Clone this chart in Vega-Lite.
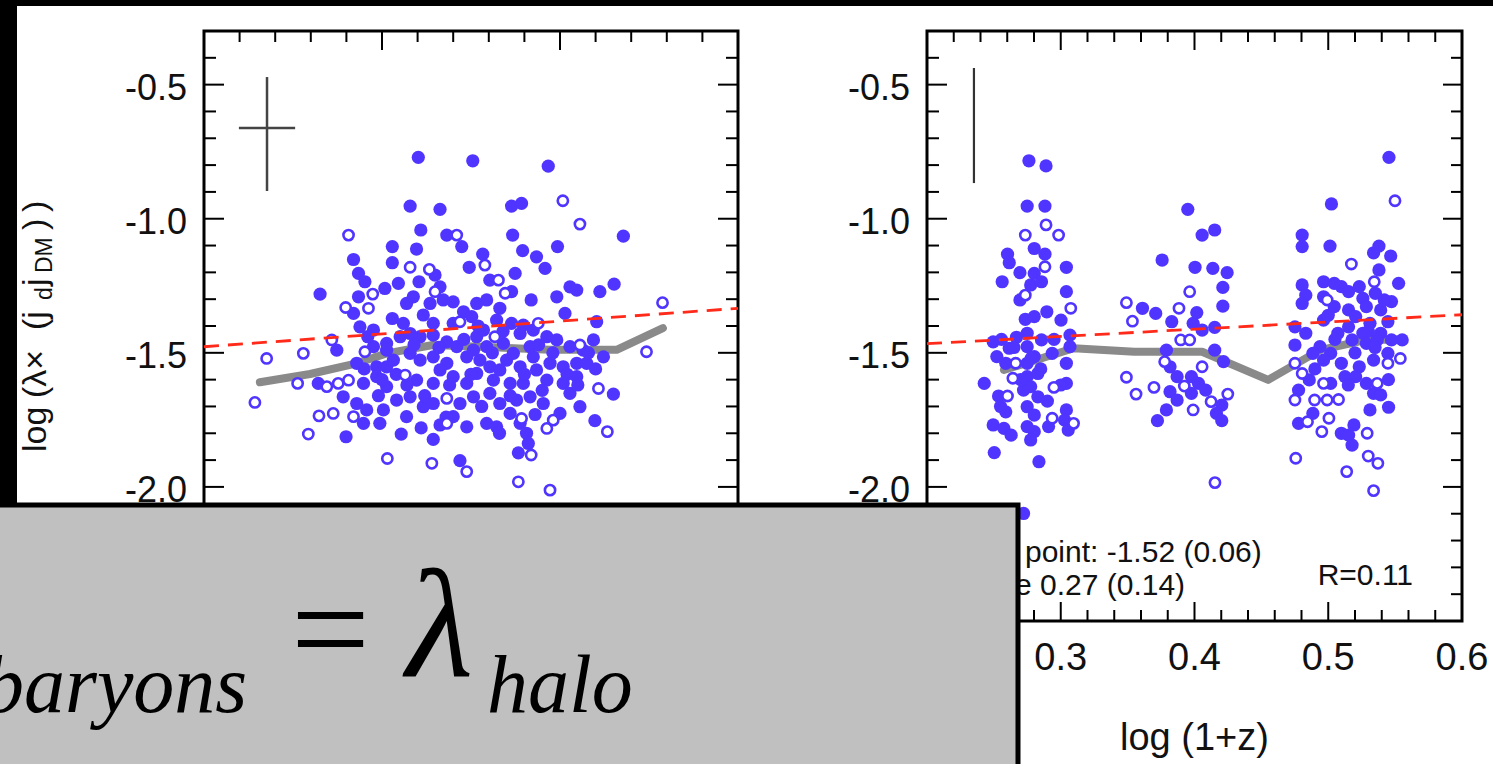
{
"$schema":"https://vega.github.io/schema/vega-lite/v6.json",
"width":1476,"height":758,
"autosize":{"type":"none"},
"padding":{"left":17,"top":6,"right":0,"bottom":0},
"background":"#000000",
"config":{"view":{"fill":"white","stroke":null},"axis":{"disable":true},"legend":{"disable":true}},
"datasets":{
"one":[{}],
"yt":[{"v":-2.4,"m":0},{"v":-2.3,"m":0},{"v":-2.2,"m":0},{"v":-2.1,"m":0},{"v":-2.0,"m":1},{"v":-1.9,"m":0},{"v":-1.8,"m":0},{"v":-1.7,"m":0},{"v":-1.6,"m":0},{"v":-1.5,"m":1},{"v":-1.4,"m":0},{"v":-1.3,"m":0},{"v":-1.2,"m":0},{"v":-1.1,"m":0},{"v":-1.0,"m":1},{"v":-0.9,"m":0},{"v":-0.8,"m":0},{"v":-0.7,"m":0},{"v":-0.6,"m":0},{"v":-0.5,"m":1},{"v":-0.4,"m":0}],
"lxt":[{"v":9.6,"m":0},{"v":9.7,"m":0},{"v":9.8,"m":0},{"v":9.9,"m":0},{"v":10.0,"m":1},{"v":10.1,"m":0},{"v":10.2,"m":0},{"v":10.3,"m":0},{"v":10.4,"m":0},{"v":10.5,"m":1},{"v":10.6,"m":0},{"v":10.7,"m":0},{"v":10.8,"m":0},{"v":10.9,"m":0}],
"rxt":[{"v":0.22,"m":0},{"v":0.24,"m":0},{"v":0.26,"m":0},{"v":0.28,"m":0},{"v":0.30,"m":1},{"v":0.32,"m":0},{"v":0.34,"m":0},{"v":0.36,"m":0},{"v":0.38,"m":0},{"v":0.40,"m":1},{"v":0.42,"m":0},{"v":0.44,"m":0},{"v":0.46,"m":0},{"v":0.48,"m":0},{"v":0.50,"m":1},{"v":0.52,"m":0},{"v":0.54,"m":0},{"v":0.56,"m":0},{"v":0.58,"m":0}],
"ylab":[{"v":-2.5,"t":"-2.5"},{"v":-2.0,"t":"-2.0"},{"v":-1.5,"t":"-1.5"},{"v":-1.0,"t":"-1.0"},{"v":-0.5,"t":"-0.5"}],
"rxlab":[{"v":0.2,"t":"0.2"},{"v":0.3,"t":"0.3"},{"v":0.4,"t":"0.4"},{"v":0.5,"t":"0.5"},{"v":0.6,"t":"0.6"}],
"lg":[{"x":9.657,"y":-1.61},{"x":9.798,"y":-1.579},{"x":9.929,"y":-1.539},{"x":10.013,"y":-1.502},{"x":10.143,"y":-1.471},{"x":10.275,"y":-1.477},{"x":10.472,"y":-1.489},{"x":10.659,"y":-1.489},{"x":10.789,"y":-1.408}],
"lr":[{"x":9.5,"y":-1.4773},{"x":11.0,"y":-1.3341}],
"rg":[{"x":0.2575,"y":-1.564},{"x":0.3096,"y":-1.483},{"x":0.355,"y":-1.496},{"x":0.4057,"y":-1.496},{"x":0.4551,"y":-1.601},{"x":0.4938,"y":-1.49},{"x":0.5285,"y":-1.452},{"x":0.5566,"y":-1.45}],
"rr":[{"x":0.2,"y":-1.466},{"x":0.6,"y":-1.358}],
"lp":[{"x":10.102,"y":-0.771,"f":1},{"x":10.255,"y":-0.784,"f":1},{"x":10.467,"y":-0.804,"f":1},{"x":10.079,"y":-0.953,"f":1},{"x":10.163,"y":-0.965,"f":1},{"x":10.364,"y":-0.953,"f":1},{"x":10.392,"y":-0.943,"f":1},{"x":10.508,"y":-0.933,"f":0},{"x":10.556,"y":-1.02,"f":0},{"x":9.906,"y":-1.061,"f":0},{"x":10.109,"y":-1.042,"f":1},{"x":10.182,"y":-1.061,"f":1},{"x":10.21,"y":-1.061,"f":0},{"x":10.224,"y":-1.104,"f":1},{"x":10.367,"y":-1.061,"f":1},{"x":10.493,"y":-1.104,"f":1},{"x":10.678,"y":-1.065,"f":1},{"x":10.029,"y":-1.104,"f":1},{"x":10.097,"y":-1.113,"f":1},{"x":10.283,"y":-1.132,"f":1},{"x":10.395,"y":-1.119,"f":1},{"x":10.434,"y":-1.142,"f":1},{"x":10.458,"y":-1.185,"f":1},{"x":9.92,"y":-1.152,"f":1},{"x":10.029,"y":-1.164,"f":1},{"x":10.079,"y":-1.181,"f":0},{"x":10.133,"y":-1.189,"f":0},{"x":10.245,"y":-1.181,"f":1},{"x":10.289,"y":-1.173,"f":0},{"x":10.374,"y":-1.204,"f":1},{"x":9.934,"y":-1.204,"f":1},{"x":9.952,"y":-1.235,"f":1},{"x":10.008,"y":-1.26,"f":1},{"x":10.046,"y":-1.241,"f":1},{"x":10.104,"y":-1.235,"f":1},{"x":10.149,"y":-1.21,"f":1},{"x":10.163,"y":-1.254,"f":1},{"x":10.303,"y":-1.229,"f":1},{"x":10.327,"y":-1.229,"f":0},{"x":10.364,"y":-1.272,"f":1},{"x":10.528,"y":-1.254,"f":1},{"x":10.547,"y":-1.266,"f":1},{"x":10.612,"y":-1.272,"f":1},{"x":10.652,"y":-1.244,"f":1},{"x":9.826,"y":-1.281,"f":1},{"x":9.934,"y":-1.291,"f":1},{"x":9.974,"y":-1.281,"f":0},{"x":9.962,"y":-1.334,"f":0},{"x":9.898,"y":-1.331,"f":0},{"x":9.92,"y":-1.353,"f":1},{"x":10.069,"y":-1.316,"f":1},{"x":10.088,"y":-1.291,"f":1},{"x":10.135,"y":-1.316,"f":1},{"x":10.149,"y":-1.272,"f":0},{"x":10.172,"y":-1.303,"f":1},{"x":10.2,"y":-1.31,"f":1},{"x":10.229,"y":-1.347,"f":1},{"x":10.266,"y":-1.316,"f":1},{"x":10.294,"y":-1.303,"f":1},{"x":10.331,"y":-1.334,"f":1},{"x":10.346,"y":-1.278,"f":0},{"x":10.419,"y":-1.303,"f":1},{"x":10.491,"y":-1.291,"f":1},{"x":10.514,"y":-1.353,"f":1},{"x":10.603,"y":-1.384,"f":1},{"x":9.938,"y":-1.403,"f":1},{"x":10.029,"y":-1.372,"f":1},{"x":10.116,"y":-1.359,"f":1},{"x":10.144,"y":-1.39,"f":1},{"x":10.219,"y":-1.384,"f":0},{"x":10.252,"y":-1.365,"f":1},{"x":10.322,"y":-1.378,"f":1},{"x":10.364,"y":-1.39,"f":1},{"x":10.397,"y":-1.397,"f":1},{"x":10.439,"y":-1.39,"f":0},{"x":9.859,"y":-1.452,"f":0},{"x":9.873,"y":-1.49,"f":1},{"x":9.952,"y":-1.496,"f":0},{"x":9.976,"y":-1.477,"f":1},{"x":10.013,"y":-1.465,"f":1},{"x":10.051,"y":-1.44,"f":1},{"x":10.079,"y":-1.428,"f":1},{"x":10.107,"y":-1.44,"f":1},{"x":10.144,"y":-1.434,"f":1},{"x":10.182,"y":-1.459,"f":1},{"x":10.21,"y":-1.477,"f":1},{"x":10.266,"y":-1.44,"f":1},{"x":10.285,"y":-1.415,"f":1},{"x":10.317,"y":-1.44,"f":0},{"x":10.341,"y":-1.465,"f":1},{"x":10.388,"y":-1.428,"f":1},{"x":10.425,"y":-1.415,"f":1},{"x":10.463,"y":-1.44,"f":1},{"x":10.491,"y":-1.452,"f":1},{"x":10.528,"y":-1.477,"f":1},{"x":10.556,"y":-1.471,"f":0},{"x":10.594,"y":-1.452,"f":1},{"x":10.622,"y":-1.515,"f":1},{"x":9.676,"y":-1.521,"f":0},{"x":9.779,"y":-1.502,"f":0},{"x":9.929,"y":-1.539,"f":1},{"x":9.985,"y":-1.552,"f":1},{"x":10.032,"y":-1.527,"f":1},{"x":10.079,"y":-1.502,"f":1},{"x":10.107,"y":-1.527,"f":1},{"x":10.144,"y":-1.515,"f":1},{"x":10.182,"y":-1.539,"f":1},{"x":10.238,"y":-1.515,"f":1},{"x":10.275,"y":-1.527,"f":1},{"x":10.303,"y":-1.552,"f":1},{"x":10.35,"y":-1.527,"f":1},{"x":10.388,"y":-1.552,"f":1},{"x":10.425,"y":-1.515,"f":1},{"x":10.472,"y":-1.539,"f":1},{"x":10.509,"y":-1.552,"f":1},{"x":10.547,"y":-1.539,"f":1},{"x":10.575,"y":-1.539,"f":1},{"x":10.743,"y":-1.496,"f":0},{"x":10.788,"y":-1.313,"f":0},{"x":9.763,"y":-1.614,"f":0},{"x":9.821,"y":-1.614,"f":1},{"x":9.845,"y":-1.626,"f":0},{"x":9.877,"y":-1.614,"f":0},{"x":9.906,"y":-1.602,"f":0},{"x":9.948,"y":-1.614,"f":1},{"x":9.985,"y":-1.589,"f":1},{"x":10.065,"y":-1.583,"f":0},{"x":10.013,"y":-1.626,"f":1},{"x":10.097,"y":-1.602,"f":1},{"x":10.144,"y":-1.614,"f":1},{"x":10.2,"y":-1.589,"f":1},{"x":10.238,"y":-1.614,"f":1},{"x":10.266,"y":-1.577,"f":1},{"x":10.313,"y":-1.602,"f":1},{"x":10.36,"y":-1.614,"f":1},{"x":10.397,"y":-1.614,"f":1},{"x":10.463,"y":-1.602,"f":1},{"x":10.509,"y":-1.614,"f":1},{"x":10.547,"y":-1.589,"f":1},{"x":10.608,"y":-1.633,"f":0},{"x":10.65,"y":-1.654,"f":1},{"x":9.643,"y":-1.685,"f":0},{"x":9.823,"y":-1.735,"f":0},{"x":9.863,"y":-1.726,"f":0},{"x":9.891,"y":-1.664,"f":1},{"x":9.929,"y":-1.689,"f":1},{"x":9.92,"y":-1.738,"f":0},{"x":9.957,"y":-1.713,"f":1},{"x":10.004,"y":-1.713,"f":1},{"x":10.041,"y":-1.676,"f":1},{"x":10.079,"y":-1.664,"f":1},{"x":10.116,"y":-1.701,"f":1},{"x":10.144,"y":-1.689,"f":1},{"x":10.182,"y":-1.67,"f":0},{"x":10.219,"y":-1.689,"f":1},{"x":10.257,"y":-1.664,"f":1},{"x":10.303,"y":-1.651,"f":1},{"x":10.331,"y":-1.689,"f":1},{"x":10.378,"y":-1.676,"f":1},{"x":10.416,"y":-1.664,"f":1},{"x":10.453,"y":-1.689,"f":1},{"x":10.5,"y":-1.726,"f":1},{"x":10.556,"y":-1.701,"f":1},{"x":9.793,"y":-1.803,"f":0},{"x":9.899,"y":-1.813,"f":1},{"x":9.948,"y":-1.763,"f":1},{"x":9.994,"y":-1.763,"f":1},{"x":10.054,"y":-1.803,"f":1},{"x":10.144,"y":-1.823,"f":1},{"x":10.163,"y":-1.769,"f":1},{"x":10.182,"y":-1.763,"f":0},{"x":10.238,"y":-1.776,"f":1},{"x":10.294,"y":-1.763,"f":1},{"x":10.322,"y":-1.776,"f":1},{"x":10.388,"y":-1.763,"f":1},{"x":10.392,"y":-1.745,"f":0},{"x":10.406,"y":-1.8,"f":1},{"x":10.463,"y":-1.782,"f":0},{"x":10.481,"y":-1.751,"f":0},{"x":10.598,"y":-1.753,"f":1},{"x":10.633,"y":-1.794,"f":0},{"x":10.015,"y":-1.894,"f":0},{"x":10.14,"y":-1.912,"f":0},{"x":10.219,"y":-1.902,"f":1},{"x":10.238,"y":-1.943,"f":0},{"x":10.383,"y":-1.873,"f":1},{"x":10.419,"y":-1.881,"f":0},{"x":10.411,"y":-1.838,"f":1},{"x":10.383,"y":-1.981,"f":0},{"x":10.472,"y":-2.012,"f":0},{"x":9.976,"y":-1.415,"f":1},{"x":10.06,"y":-1.39,"f":1},{"x":10.2,"y":-1.39,"f":1},{"x":10.294,"y":-1.477,"f":1},{"x":10.416,"y":-1.477,"f":1},{"x":10.565,"y":-1.49,"f":1},{"x":10.013,"y":-1.552,"f":1},{"x":10.163,"y":-1.564,"f":1},{"x":10.331,"y":-1.564,"f":1},{"x":10.434,"y":-1.564,"f":1},{"x":10.069,"y":-1.738,"f":1},{"x":10.2,"y":-1.738,"f":1},{"x":10.36,"y":-1.726,"f":1},{"x":10.528,"y":-1.651,"f":1},{"x":10.013,"y":-1.49,"f":1},{"x":10.257,"y":-1.49,"f":1},{"x":10.369,"y":-1.502,"f":1},{"x":9.96,"y":-1.44,"f":1},{"x":10.0,"y":-1.6,"f":1},{"x":10.04,"y":-1.58,"f":1},{"x":10.09,"y":-1.47,"f":1},{"x":10.12,"y":-1.66,"f":1},{"x":10.16,"y":-1.48,"f":1},{"x":10.19,"y":-1.62,"f":1},{"x":10.23,"y":-1.45,"f":1},{"x":10.25,"y":-1.58,"f":1},{"x":10.28,"y":-1.7,"f":1},{"x":10.31,"y":-1.5,"f":1},{"x":10.34,"y":-1.42,"f":1},{"x":10.36,"y":-1.66,"f":1},{"x":10.4,"y":-1.58,"f":1},{"x":10.44,"y":-1.47,"f":1},{"x":10.45,"y":-1.64,"f":1},{"x":10.48,"y":-1.5,"f":1},{"x":10.52,"y":-1.58,"f":1},{"x":10.55,"y":-1.62,"f":1},{"x":10.58,"y":-1.5,"f":1},{"x":10.6,"y":-1.56,"f":1},{"x":10.27,"y":-1.4,"f":1},{"x":10.18,"y":-1.74,"f":1},{"x":10.11,"y":-1.78,"f":1},{"x":10.33,"y":-1.8,"f":1},{"x":10.43,"y":-1.73,"f":1},{"x":10.07,"y":-1.62,"f":1},{"x":9.99,"y":-1.66,"f":1},{"x":9.95,"y":-1.56,"f":1}],
"rp":[{"x":0.2762,"y":-0.784,"f":1},{"x":0.289,"y":-0.803,"f":1},{"x":0.2749,"y":-0.953,"f":1},{"x":0.2882,"y":-0.953,"f":1},{"x":0.289,"y":-1.023,"f":0},{"x":0.2984,"y":-1.061,"f":0},{"x":0.2735,"y":-1.061,"f":0},{"x":0.2602,"y":-1.132,"f":1},{"x":0.2615,"y":-1.164,"f":1},{"x":0.2802,"y":-1.111,"f":1},{"x":0.2882,"y":-1.132,"f":1},{"x":0.2695,"y":-1.201,"f":1},{"x":0.2882,"y":-1.179,"f":0},{"x":0.3042,"y":-1.181,"f":1},{"x":0.2562,"y":-1.235,"f":1},{"x":0.2802,"y":-1.204,"f":1},{"x":0.2775,"y":-1.247,"f":1},{"x":0.2856,"y":-1.235,"f":1},{"x":0.2735,"y":-1.285,"f":0},{"x":0.3042,"y":-1.272,"f":1},{"x":0.3075,"y":-1.334,"f":0},{"x":0.2896,"y":-1.347,"f":1},{"x":0.2735,"y":-1.375,"f":1},{"x":0.2802,"y":-1.365,"f":1},{"x":0.3002,"y":-1.378,"f":1},{"x":0.2495,"y":-1.459,"f":1},{"x":0.2557,"y":-1.45,"f":1},{"x":0.2669,"y":-1.442,"f":1},{"x":0.2749,"y":-1.427,"f":1},{"x":0.2615,"y":-1.483,"f":1},{"x":0.3069,"y":-1.434,"f":1},{"x":0.3069,"y":-1.477,"f":1},{"x":0.2522,"y":-1.514,"f":1},{"x":0.2589,"y":-1.539,"f":1},{"x":0.2749,"y":-1.539,"f":1},{"x":0.2802,"y":-1.514,"f":1},{"x":0.2936,"y":-1.502,"f":1},{"x":0.3042,"y":-1.539,"f":1},{"x":0.2663,"y":-1.539,"f":0},{"x":0.2428,"y":-1.614,"f":1},{"x":0.2535,"y":-1.661,"f":1},{"x":0.2602,"y":-1.661,"f":0},{"x":0.2749,"y":-1.589,"f":1},{"x":0.2775,"y":-1.626,"f":1},{"x":0.2829,"y":-1.664,"f":1},{"x":0.2642,"y":-1.595,"f":0},{"x":0.2949,"y":-1.629,"f":0},{"x":0.3042,"y":-1.614,"f":1},{"x":0.2589,"y":-1.72,"f":1},{"x":0.2749,"y":-1.701,"f":1},{"x":0.2802,"y":-1.732,"f":1},{"x":0.3042,"y":-1.713,"f":1},{"x":0.2495,"y":-1.769,"f":1},{"x":0.2575,"y":-1.782,"f":1},{"x":0.2629,"y":-1.807,"f":1},{"x":0.2749,"y":-1.775,"f":1},{"x":0.2802,"y":-1.794,"f":1},{"x":0.2909,"y":-1.775,"f":1},{"x":0.2936,"y":-1.744,"f":0},{"x":0.3029,"y":-1.751,"f":1},{"x":0.3096,"y":-1.763,"f":0},{"x":0.3056,"y":-1.788,"f":1},{"x":0.2775,"y":-1.825,"f":1},{"x":0.2503,"y":-1.872,"f":1},{"x":0.2837,"y":-1.906,"f":1},{"x":0.2722,"y":-2.099,"f":1},{"x":0.2695,"y":-1.303,"f":1},{"x":0.2749,"y":-1.477,"f":1},{"x":0.2829,"y":-1.577,"f":1},{"x":0.2722,"y":-1.639,"f":1},{"x":0.2856,"y":-1.452,"f":1},{"x":0.265,"y":-1.48,"f":1},{"x":0.285,"y":-1.56,"f":1},{"x":0.29,"y":-1.68,"f":1},{"x":0.27,"y":-1.6,"f":1},{"x":0.295,"y":-1.45,"f":1},{"x":0.255,"y":-1.7,"f":1},{"x":0.3,"y":-1.62,"f":1},{"x":0.278,"y":-1.52,"f":1},{"x":0.3491,"y":-1.313,"f":0},{"x":0.3536,"y":-1.382,"f":0},{"x":0.3611,"y":-1.334,"f":1},{"x":0.371,"y":-1.353,"f":1},{"x":0.383,"y":-1.384,"f":1},{"x":0.3884,"y":-1.334,"f":0},{"x":0.3964,"y":-1.272,"f":0},{"x":0.395,"y":-0.965,"f":1},{"x":0.4057,"y":-1.061,"f":1},{"x":0.4151,"y":-1.042,"f":1},{"x":0.3758,"y":-1.154,"f":1},{"x":0.4004,"y":-1.181,"f":1},{"x":0.4137,"y":-1.185,"f":1},{"x":0.4244,"y":-1.201,"f":1},{"x":0.4212,"y":-1.256,"f":1},{"x":0.4212,"y":-1.326,"f":1},{"x":0.4017,"y":-1.35,"f":1},{"x":0.399,"y":-1.39,"f":1},{"x":0.4057,"y":-1.415,"f":1},{"x":0.4151,"y":-1.405,"f":1},{"x":0.3897,"y":-1.452,"f":0},{"x":0.3964,"y":-1.452,"f":0},{"x":0.379,"y":-1.49,"f":1},{"x":0.3777,"y":-1.533,"f":0},{"x":0.3817,"y":-1.552,"f":1},{"x":0.387,"y":-1.589,"f":1},{"x":0.4057,"y":-1.552,"f":0},{"x":0.3977,"y":-1.589,"f":1},{"x":0.403,"y":-1.614,"f":1},{"x":0.4084,"y":-1.639,"f":1},{"x":0.3924,"y":-1.624,"f":0},{"x":0.3817,"y":-1.645,"f":1},{"x":0.387,"y":-1.676,"f":1},{"x":0.3977,"y":-1.651,"f":1},{"x":0.3491,"y":-1.591,"f":0},{"x":0.3563,"y":-1.654,"f":0},{"x":0.3697,"y":-1.629,"f":0},{"x":0.379,"y":-1.713,"f":1},{"x":0.399,"y":-1.713,"f":0},{"x":0.3723,"y":-1.753,"f":1},{"x":0.4151,"y":-1.49,"f":1},{"x":0.4217,"y":-1.533,"f":1},{"x":0.4124,"y":-1.682,"f":0},{"x":0.4204,"y":-1.695,"f":1},{"x":0.4249,"y":-1.654,"f":0},{"x":0.4164,"y":-1.726,"f":1},{"x":0.4204,"y":-1.753,"f":1},{"x":0.4153,"y":-1.984,"f":0},{"x":0.5454,"y":-0.771,"f":1},{"x":0.5499,"y":-0.933,"f":0},{"x":0.5024,"y":-0.945,"f":1},{"x":0.4805,"y":-1.061,"f":1},{"x":0.4805,"y":-1.104,"f":1},{"x":0.5013,"y":-1.102,"f":1},{"x":0.5173,"y":-1.169,"f":0},{"x":0.5339,"y":-1.127,"f":1},{"x":0.5379,"y":-1.102,"f":1},{"x":0.5467,"y":-1.139,"f":1},{"x":0.5379,"y":-1.191,"f":1},{"x":0.5344,"y":-1.235,"f":0},{"x":0.5526,"y":-1.241,"f":1},{"x":0.4805,"y":-1.247,"f":1},{"x":0.4965,"y":-1.235,"f":1},{"x":0.5045,"y":-1.241,"f":1},{"x":0.5098,"y":-1.253,"f":1},{"x":0.4832,"y":-1.285,"f":1},{"x":0.4965,"y":-1.291,"f":1},{"x":0.4992,"y":-1.303,"f":0},{"x":0.5152,"y":-1.272,"f":1},{"x":0.5259,"y":-1.297,"f":1},{"x":0.5352,"y":-1.278,"f":1},{"x":0.5473,"y":-1.309,"f":1},{"x":0.4805,"y":-1.316,"f":1},{"x":0.5045,"y":-1.328,"f":1},{"x":0.5152,"y":-1.34,"f":1},{"x":0.5285,"y":-1.328,"f":1},{"x":0.5392,"y":-1.34,"f":1},{"x":0.5446,"y":-1.384,"f":1},{"x":0.4751,"y":-1.403,"f":1},{"x":0.4832,"y":-1.427,"f":1},{"x":0.4965,"y":-1.378,"f":1},{"x":0.5152,"y":-1.403,"f":1},{"x":0.5205,"y":-1.365,"f":1},{"x":0.5312,"y":-1.39,"f":1},{"x":0.5392,"y":-1.427,"f":1},{"x":0.4751,"y":-1.471,"f":1},{"x":0.4938,"y":-1.477,"f":1},{"x":0.5018,"y":-1.502,"f":1},{"x":0.5178,"y":-1.452,"f":1},{"x":0.5285,"y":-1.465,"f":1},{"x":0.5366,"y":-1.452,"f":1},{"x":0.5473,"y":-1.452,"f":1},{"x":0.5553,"y":-1.452,"f":1},{"x":0.5539,"y":-1.521,"f":0},{"x":0.4965,"y":-1.527,"f":1},{"x":0.5098,"y":-1.539,"f":1},{"x":0.5232,"y":-1.552,"f":1},{"x":0.5339,"y":-1.527,"f":1},{"x":0.5446,"y":-1.539,"f":0},{"x":0.5446,"y":-1.502,"f":1},{"x":0.4751,"y":-1.539,"f":0},{"x":0.4805,"y":-1.577,"f":0},{"x":0.4858,"y":-1.601,"f":1},{"x":0.5018,"y":-1.614,"f":1},{"x":0.4965,"y":-1.614,"f":0},{"x":0.5125,"y":-1.589,"f":1},{"x":0.5205,"y":-1.589,"f":1},{"x":0.5285,"y":-1.614,"f":1},{"x":0.5366,"y":-1.614,"f":0},{"x":0.5339,"y":-1.651,"f":1},{"x":0.5392,"y":-1.657,"f":1},{"x":0.4778,"y":-1.639,"f":1},{"x":0.4751,"y":-1.676,"f":0},{"x":0.4898,"y":-1.676,"f":0},{"x":0.4992,"y":-1.676,"f":0},{"x":0.5077,"y":-1.674,"f":0},{"x":0.5312,"y":-1.713,"f":1},{"x":0.5451,"y":-1.703,"f":1},{"x":0.4885,"y":-1.726,"f":1},{"x":0.5005,"y":-1.744,"f":0},{"x":0.4778,"y":-1.763,"f":1},{"x":0.4845,"y":-1.757,"f":0},{"x":0.4952,"y":-1.794,"f":0},{"x":0.5098,"y":-1.8,"f":1},{"x":0.5192,"y":-1.769,"f":1},{"x":0.5152,"y":-1.807,"f":1},{"x":0.5178,"y":-1.844,"f":1},{"x":0.5291,"y":-1.8,"f":0},{"x":0.4757,"y":-1.893,"f":0},{"x":0.5299,"y":-1.885,"f":0},{"x":0.5371,"y":-1.912,"f":0},{"x":0.5138,"y":-1.943,"f":0},{"x":0.5339,"y":-2.014,"f":0},{"x":0.5259,"y":-1.427,"f":1},{"x":0.5072,"y":-1.427,"f":1},{"x":0.4885,"y":-1.502,"f":1},{"x":0.5419,"y":-1.303,"f":1},{"x":0.5232,"y":-1.253,"f":1},{"x":0.505,"y":-1.45,"f":1},{"x":0.52,"y":-1.5,"f":1},{"x":0.535,"y":-1.48,"f":1},{"x":0.49,"y":-1.56,"f":1},{"x":0.515,"y":-1.62,"f":1},{"x":0.545,"y":-1.6,"f":1},{"x":0.5,"y":-1.36,"f":1},{"x":0.53,"y":-1.42,"f":1}]
},
"resolve":{"scale":{"x":"independent"}},
"layer":[
{"layer":[
{"data":{"name":"one"},"mark":{"type":"rect","fillOpacity":0,"stroke":"#000","strokeWidth":3},"encoding":{"x":{"datum":9.5,"type":"quantitative","scale":{"domain":[8.97472,13.12079],"nice":false,"zero":false}},"x2":{"datum":11.0},"y":{"datum":-2.5,"type":"quantitative","scale":{"domain":[-3.03322,-0.20678],"nice":false,"zero":false}},"y2":{"datum":-0.3}}},
{"data":{"name":"yt"},"transform":[{"filter":"datum.m==1"}],"mark":{"type":"rule","x2Offset":20,"strokeWidth":2,"color":"#000"},"encoding":{"x":{"datum":9.5,"type":"quantitative"},"x2":{"datum":9.5},"y":{"field":"v","type":"quantitative"}}},
{"data":{"name":"yt"},"transform":[{"filter":"datum.m==0"}],"mark":{"type":"rule","x2Offset":12,"strokeWidth":2,"color":"#000"},"encoding":{"x":{"datum":9.5,"type":"quantitative"},"x2":{"datum":9.5},"y":{"field":"v","type":"quantitative"}}},
{"data":{"name":"yt"},"transform":[{"filter":"datum.m==1"}],"mark":{"type":"rule","x2Offset":-20,"strokeWidth":2,"color":"#000"},"encoding":{"x":{"datum":11.0,"type":"quantitative"},"x2":{"datum":11.0},"y":{"field":"v","type":"quantitative"}}},
{"data":{"name":"yt"},"transform":[{"filter":"datum.m==0"}],"mark":{"type":"rule","x2Offset":-12,"strokeWidth":2,"color":"#000"},"encoding":{"x":{"datum":11.0,"type":"quantitative"},"x2":{"datum":11.0},"y":{"field":"v","type":"quantitative"}}},
{"data":{"name":"lxt"},"transform":[{"filter":"datum.m==1"}],"mark":{"type":"rule","y2Offset":19,"strokeWidth":2,"color":"#000"},"encoding":{"x":{"field":"v","type":"quantitative"},"y":{"datum":-0.3,"type":"quantitative"},"y2":{"datum":-0.3}}},
{"data":{"name":"lxt"},"transform":[{"filter":"datum.m==0"}],"mark":{"type":"rule","y2Offset":11,"strokeWidth":2,"color":"#000"},"encoding":{"x":{"field":"v","type":"quantitative"},"y":{"datum":-0.3,"type":"quantitative"},"y2":{"datum":-0.3}}},
{"data":{"name":"lxt"},"transform":[{"filter":"datum.m==1"}],"mark":{"type":"rule","y2Offset":-19,"strokeWidth":2,"color":"#000"},"encoding":{"x":{"field":"v","type":"quantitative"},"y":{"datum":-2.5,"type":"quantitative"},"y2":{"datum":-2.5}}},
{"data":{"name":"lg"},"mark":{"type":"line","color":"#8a8a8a","strokeWidth":8,"strokeCap":"round","strokeJoin":"round"},"encoding":{"x":{"field":"x","type":"quantitative"},"y":{"field":"y","type":"quantitative"}}},
{"data":{"name":"lp"},"transform":[{"filter":"datum.f==1"}],"mark":{"type":"point","shape":"circle","filled":true,"size":175,"color":"#4f35ff","opacity":1},"encoding":{"x":{"field":"x","type":"quantitative"},"y":{"field":"y","type":"quantitative"}}},
{"data":{"name":"lp"},"transform":[{"filter":"datum.f==0"}],"mark":{"type":"point","shape":"circle","filled":false,"size":105,"strokeWidth":2.6,"color":"#4f35ff","fill":"white","fillOpacity":1,"opacity":1},"encoding":{"x":{"field":"x","type":"quantitative"},"y":{"field":"y","type":"quantitative"}}},
{"data":{"name":"lr"},"mark":{"type":"line","color":"#ff2a1a","strokeWidth":2.8,"strokeDash":[15,9]},"encoding":{"x":{"field":"x","type":"quantitative"},"y":{"field":"y","type":"quantitative"}}},
{"data":{"name":"one"},"mark":{"type":"rule","color":"#444","strokeWidth":2.5},"encoding":{"x":{"datum":9.677,"type":"quantitative"},"y":{"datum":-0.4717,"type":"quantitative"},"y2":{"datum":-0.8967}}},
{"data":{"name":"one"},"mark":{"type":"rule","color":"#444","strokeWidth":2.5},"encoding":{"x":{"datum":9.598,"type":"quantitative"},"x2":{"datum":9.756},"y":{"datum":-0.6618,"type":"quantitative"}}},
{"data":{"name":"ylab"},"mark":{"type":"text","align":"right","baseline":"middle","dx":-17,"dy":4,"font":"Liberation Sans","fontSize":36,"color":"#111"},"encoding":{"x":{"datum":9.5,"type":"quantitative"},"y":{"field":"v","type":"quantitative"},"text":{"field":"t"}}},
{"data":{"name":"one"},"mark":{"type":"text","angle":270,"align":"left","baseline":"alphabetic","font":"Liberation Sans","fontSize":34,"color":"#111"},"encoding":{"x":{"datum":9.05618,"type":"quantitative"},"y":{"datum":-1.8699,"type":"quantitative"},"text":{"value":"log"}}},
{"data":{"name":"one"},"mark":{"type":"text","angle":270,"align":"left","baseline":"alphabetic","font":"Liberation Sans","fontSize":34,"color":"#111"},"encoding":{"x":{"datum":9.05618,"type":"quantitative"},"y":{"datum":-1.6685,"type":"quantitative"},"text":{"value":"(λ×"}}},
{"data":{"name":"one"},"mark":{"type":"text","angle":270,"align":"left","baseline":"alphabetic","font":"Liberation Sans","fontSize":34,"color":"#111"},"encoding":{"x":{"datum":9.05618,"type":"quantitative"},"y":{"datum":-1.415,"type":"quantitative"},"text":{"value":"(j"}}},
{"data":{"name":"one"},"mark":{"type":"text","angle":270,"align":"left","baseline":"alphabetic","font":"Liberation Sans","fontSize":23,"color":"#111"},"encoding":{"x":{"datum":9.07303,"type":"quantitative"},"y":{"datum":-1.3031,"type":"quantitative"},"text":{"value":"d"}}},
{"data":{"name":"one"},"mark":{"type":"text","angle":270,"align":"left","baseline":"alphabetic","font":"Liberation Sans","fontSize":34,"color":"#111"},"encoding":{"x":{"datum":9.05618,"type":"quantitative"},"y":{"datum":-1.2509,"type":"quantitative"},"text":{"value":"j"}}},
{"data":{"name":"one"},"mark":{"type":"text","angle":270,"align":"left","baseline":"alphabetic","font":"Liberation Sans","fontSize":23,"color":"#111"},"encoding":{"x":{"datum":9.07303,"type":"quantitative"},"y":{"datum":-1.2025,"type":"quantitative"},"text":{"value":"DM"}}},
{"data":{"name":"one"},"mark":{"type":"text","angle":270,"align":"left","baseline":"alphabetic","font":"Liberation Sans","fontSize":34,"color":"#111"},"encoding":{"x":{"datum":9.05618,"type":"quantitative"},"y":{"datum":-1.0421,"type":"quantitative"},"text":{"value":")"}}},
{"data":{"name":"one"},"mark":{"type":"text","angle":270,"align":"left","baseline":"alphabetic","font":"Liberation Sans","fontSize":34,"color":"#111"},"encoding":{"x":{"datum":9.05618,"type":"quantitative"},"y":{"datum":-0.975,"type":"quantitative"},"text":{"value":")"}}}
]},
{"layer":[
{"data":{"name":"one"},"mark":{"type":"rect","fillOpacity":0,"stroke":"#000","strokeWidth":3},"encoding":{"x":{"datum":0.2,"type":"quantitative","scale":{"domain":[-0.48037,0.62318],"nice":false,"zero":false}},"x2":{"datum":0.6},"y":{"datum":-2.5,"type":"quantitative"},"y2":{"datum":-0.3}}},
{"data":{"name":"yt"},"transform":[{"filter":"datum.m==1"}],"mark":{"type":"rule","x2Offset":20,"strokeWidth":2,"color":"#000"},"encoding":{"x":{"datum":0.2,"type":"quantitative"},"x2":{"datum":0.2},"y":{"field":"v","type":"quantitative"}}},
{"data":{"name":"yt"},"transform":[{"filter":"datum.m==0"}],"mark":{"type":"rule","x2Offset":12,"strokeWidth":2,"color":"#000"},"encoding":{"x":{"datum":0.2,"type":"quantitative"},"x2":{"datum":0.2},"y":{"field":"v","type":"quantitative"}}},
{"data":{"name":"yt"},"transform":[{"filter":"datum.m==1"}],"mark":{"type":"rule","x2Offset":-19,"strokeWidth":2,"color":"#000"},"encoding":{"x":{"datum":0.6,"type":"quantitative"},"x2":{"datum":0.6},"y":{"field":"v","type":"quantitative"}}},
{"data":{"name":"yt"},"transform":[{"filter":"datum.m==0"}],"mark":{"type":"rule","x2Offset":-11,"strokeWidth":2,"color":"#000"},"encoding":{"x":{"datum":0.6,"type":"quantitative"},"x2":{"datum":0.6},"y":{"field":"v","type":"quantitative"}}},
{"data":{"name":"rxt"},"transform":[{"filter":"datum.m==1"}],"mark":{"type":"rule","y2Offset":19,"strokeWidth":2,"color":"#000"},"encoding":{"x":{"field":"v","type":"quantitative"},"y":{"datum":-0.3,"type":"quantitative"},"y2":{"datum":-0.3}}},
{"data":{"name":"rxt"},"transform":[{"filter":"datum.m==0"}],"mark":{"type":"rule","y2Offset":11,"strokeWidth":2,"color":"#000"},"encoding":{"x":{"field":"v","type":"quantitative"},"y":{"datum":-0.3,"type":"quantitative"},"y2":{"datum":-0.3}}},
{"data":{"name":"rxt"},"transform":[{"filter":"datum.m==1"}],"mark":{"type":"rule","y2Offset":-19,"strokeWidth":2,"color":"#000"},"encoding":{"x":{"field":"v","type":"quantitative"},"y":{"datum":-2.5,"type":"quantitative"},"y2":{"datum":-2.5}}},
{"data":{"name":"rxt"},"transform":[{"filter":"datum.m==0"}],"mark":{"type":"rule","y2Offset":-11,"strokeWidth":2,"color":"#000"},"encoding":{"x":{"field":"v","type":"quantitative"},"y":{"datum":-2.5,"type":"quantitative"},"y2":{"datum":-2.5}}},
{"data":{"name":"rg"},"mark":{"type":"line","color":"#8a8a8a","strokeWidth":8,"strokeCap":"round","strokeJoin":"round"},"encoding":{"x":{"field":"x","type":"quantitative"},"y":{"field":"y","type":"quantitative"}}},
{"data":{"name":"rp"},"transform":[{"filter":"datum.f==1"}],"mark":{"type":"point","shape":"circle","filled":true,"size":175,"color":"#4f35ff","opacity":1},"encoding":{"x":{"field":"x","type":"quantitative"},"y":{"field":"y","type":"quantitative"}}},
{"data":{"name":"rp"},"transform":[{"filter":"datum.f==0"}],"mark":{"type":"point","shape":"circle","filled":false,"size":105,"strokeWidth":2.6,"color":"#4f35ff","fill":"white","fillOpacity":1,"opacity":1},"encoding":{"x":{"field":"x","type":"quantitative"},"y":{"field":"y","type":"quantitative"}}},
{"data":{"name":"rr"},"mark":{"type":"line","color":"#ff2a1a","strokeWidth":2.8,"strokeDash":[15,9]},"encoding":{"x":{"field":"x","type":"quantitative"},"y":{"field":"y","type":"quantitative"}}},
{"data":{"name":"one"},"mark":{"type":"rule","color":"#333","strokeWidth":2.2},"encoding":{"x":{"datum":0.2351,"type":"quantitative"},"y":{"datum":-0.438,"type":"quantitative"},"y2":{"datum":-0.867}}},
{"data":{"name":"ylab"},"mark":{"type":"text","align":"right","baseline":"middle","dx":-17,"dy":4,"font":"Liberation Sans","fontSize":36,"color":"#111"},"encoding":{"x":{"datum":0.2,"type":"quantitative"},"y":{"field":"v","type":"quantitative"},"text":{"field":"t"}}},
{"data":{"name":"rxlab"},"mark":{"type":"text","align":"center","baseline":"alphabetic","dy":49,"font":"Liberation Sans","fontSize":38,"color":"#111"},"encoding":{"x":{"field":"v","type":"quantitative"},"y":{"datum":-2.5,"type":"quantitative"},"text":{"field":"t"}}},
{"data":{"name":"one"},"mark":{"type":"text","align":"center","baseline":"alphabetic","dy":129,"font":"Liberation Sans","fontSize":38,"color":"#111"},"encoding":{"x":{"datum":0.4,"type":"quantitative"},"y":{"datum":-2.5,"type":"quantitative"},"text":{"value":"log (1+z)"}}},
{"data":{"name":"one"},"mark":{"type":"text","align":"left","baseline":"alphabetic","font":"Liberation Sans","fontSize":30,"color":"#111"},"encoding":{"x":{"datum":0.2209,"type":"quantitative"},"y":{"datum":-2.28,"type":"quantitative"},"text":{"value":"Zero point: -1.52 (0.06)"}}},
{"data":{"name":"one"},"mark":{"type":"text","align":"left","baseline":"alphabetic","font":"Liberation Sans","fontSize":30,"color":"#111"},"encoding":{"x":{"datum":0.2209,"type":"quantitative"},"y":{"datum":-2.403,"type":"quantitative"},"text":{"value":"Slope  0.27 (0.14)"}}},
{"data":{"name":"one"},"mark":{"type":"text","align":"right","baseline":"alphabetic","font":"Liberation Sans","fontSize":30,"color":"#111"},"encoding":{"x":{"datum":0.5634,"type":"quantitative"},"y":{"datum":-2.366,"type":"quantitative"},"text":{"value":"R=0.11"}}}
]},
{"layer":[
{"data":{"name":"one"},"mark":{"type":"rect","fill":"#c0c0c0","stroke":"#000","strokeWidth":5},"encoding":{"x":{"datum":8.8708,"type":"quantitative","scale":{"domain":[8.97472,13.12079],"nice":false,"zero":false}},"x2":{"datum":11.7865},"y":{"datum":-2.0675,"type":"quantitative"},"y2":{"datum":-3.13}}},
{"data":{"name":"one"},"mark":{"type":"text","align":"left","baseline":"alphabetic","font":"Liberation Serif","fontStyle":"italic","fontSize":150,"color":"#000"},"encoding":{"x":{"datum":8.646,"type":"quantitative"},"y":{"datum":-2.7051,"type":"quantitative"},"text":{"value":"λ"}}},
{"data":{"name":"one"},"mark":{"type":"text","align":"left","baseline":"alphabetic","font":"Liberation Serif","fontStyle":"italic","fontSize":82,"color":"#000"},"encoding":{"x":{"datum":8.8792,"type":"quantitative"},"y":{"datum":-2.8393,"type":"quantitative"},"text":{"value":"baryons"}}},
{"data":{"name":"one"},"mark":{"type":"text","align":"left","baseline":"alphabetic","font":"Liberation Serif","fontSize":140,"color":"#000"},"encoding":{"x":{"datum":9.7444,"type":"quantitative"},"y":{"datum":-2.7051,"type":"quantitative"},"text":{"value":"="}}},
{"data":{"name":"one"},"mark":{"type":"text","align":"left","baseline":"alphabetic","font":"Liberation Serif","fontStyle":"italic","fontSize":155,"color":"#000"},"encoding":{"x":{"datum":10.068,"type":"quantitative"},"y":{"datum":-2.7051,"type":"quantitative"},"text":{"value":"λ"}}},
{"data":{"name":"one"},"mark":{"type":"text","align":"left","baseline":"alphabetic","font":"Liberation Serif","fontStyle":"italic","fontSize":82,"color":"#000"},"encoding":{"x":{"datum":10.2949,"type":"quantitative"},"y":{"datum":-2.8393,"type":"quantitative"},"text":{"value":"halo"}}}
]}
]
}
